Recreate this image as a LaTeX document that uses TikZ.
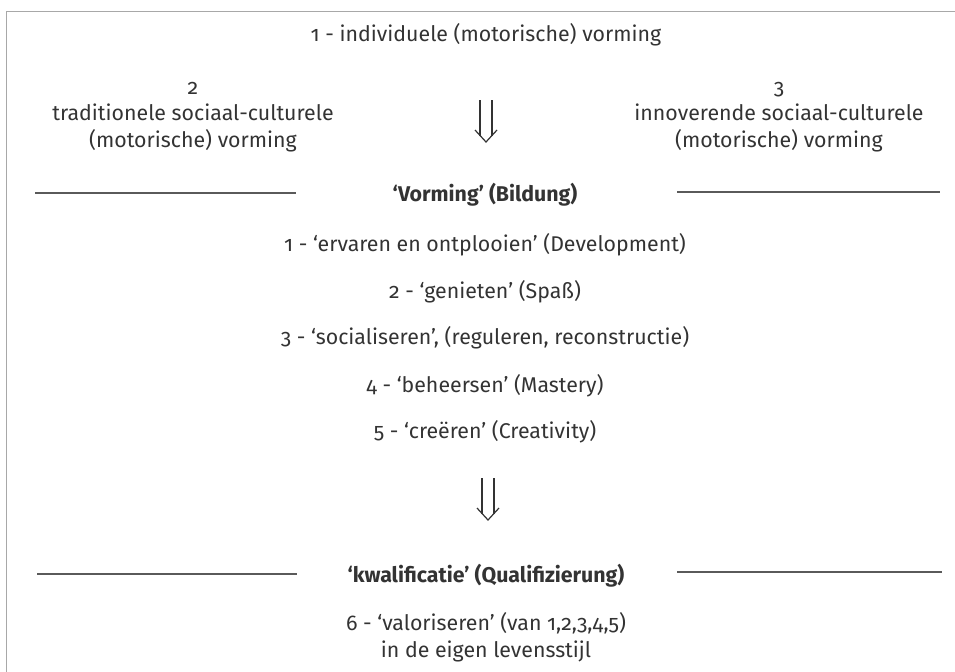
\documentclass[tikz,border=0pt]{standalone}
\usepackage{fontspec}
\setmainfont{Fira Sans}[Numbers=OldStyle]
\usetikzlibrary{positioning}
\definecolor{ink}{HTML}{333333}
\definecolor{rulegray}{HTML}{5A5A5A}
\definecolor{framegray}{HTML}{A8A8A8}

%% dubbele pijl naar beneden, #1 = bovenkant midden
\newcommand{\dblpijl}[1]{%
    \begin{scope}[shift={(#1)}]
        \draw [pijl] (-6, 0) -- (-6, 36) (6, 0) -- (6, 36);
        \draw [pijl] (-11, 30) -- (0, 42) -- (11, 30);
    \end{scope}
}

\begin{document}
\begin{tikzpicture}[x=0.75pt, y=-0.75pt,
    tekst/.style={text=ink, font=\fontsize{16}{20}\selectfont, align=center, inner sep=0pt},
    kop/.style={tekst, font=\fontsize{16}{20}\selectfont\bfseries},
    lijn/.style={draw=rulegray, line width=0.8pt},
    pijl/.style={draw=ink, line width=0.9pt}]
\useasboundingbox (0, 0) rectangle (955, 671);

%% kader
\draw [framegray, line width=0.6pt] (6, 690) -- (6, 11) -- (970, 11);

%% bovenste deel
\node [tekst] (ind) at (486, 35) {1 - individuele (motorische) vorming};
\node [tekst] (trad) at (193, 117) {2\\traditionele sociaal-culturele\\(motorische) vorming};
\node [tekst] (innov) at (779, 117) {3\\innoverende sociaal-culturele\\(motorische) vorming};
\coordinate (pijlA) at (486, 100);
\dblpijl{pijlA}

%% vorming
\node [kop] (vorming) at (485, 195) {`Vorming' (Bildung)};
\draw [lijn] (35, 193) -- (296, 193);
\draw [lijn] (677, 192) -- (940, 192);

\foreach \nr/\y/\txt in {1/245/{`ervaren en ontplooien' (Development)},
                         2/292/{`genieten' (Spaß)},
                         3/338/{`socialiseren', (reguleren, reconstructie)},
                         4/386/{`beheersen' (Mastery)},
                         5/432/{`creëren' (Creativity)}}
{
    \node [tekst] (doel\nr) at (485, \y) {\nr\ - \txt};
}
\coordinate (pijlB) at (488, 478);
\dblpijl{pijlB}

%% kwalificatie
\node [kop] (kwal) at (486, 576) {`kwalificatie' (Qualifizierung)};
\draw [lijn] (37, 574) -- (297, 574);
\draw [lijn] (677, 572) -- (942, 572);
\node [tekst] (doel6) at (486, 637) {6 - `valoriseren' (van 1,2,3,4,5)\\in de eigen levensstijl};

\end{tikzpicture}
\end{document}
